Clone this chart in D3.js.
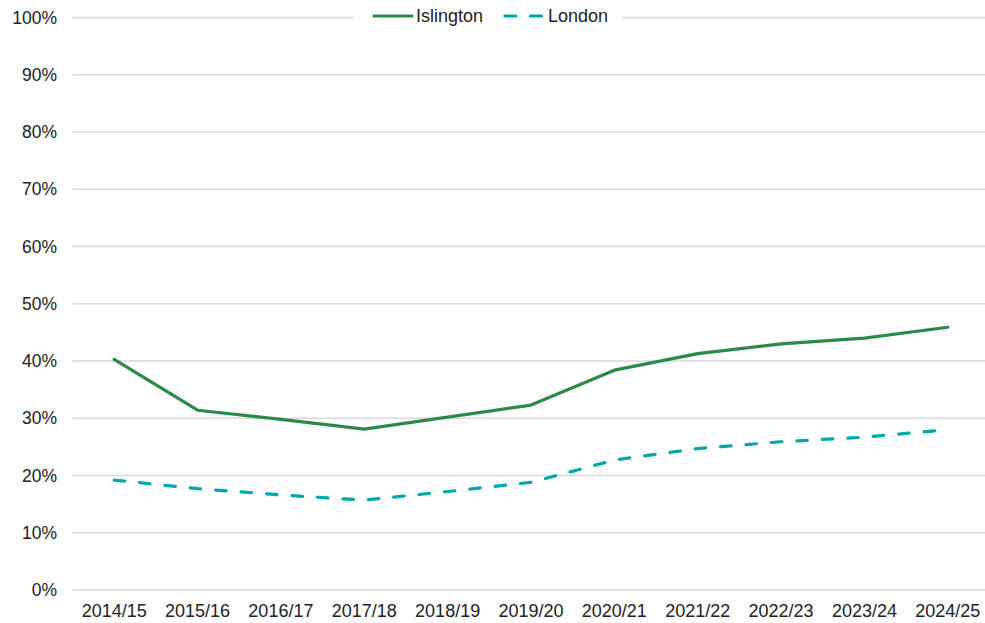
<!DOCTYPE html>
<html>
<head>
<meta charset="utf-8">
<script src="https://cdn.jsdelivr.net/npm/d3@7"></script>
<style>
  html, body { margin: 0; padding: 0; background: #fff; }
  svg { display: block; font-family: "Liberation Sans", Arial, sans-serif; }
</style>
</head>
<body>
<svg id="chart" width="985" height="623"></svg>
<script>
const categories = ["2014/15","2015/16","2016/17","2017/18","2018/19","2019/20","2020/21","2021/22","2022/23","2023/24","2024/25"];
const islington = [40.3, 31.4, 29.8, 28.1, 30.2, 32.3, 38.4, 41.3, 43.0, 44.0, 45.9];
const london = [19.2, 17.7, 16.6, 15.7, 17.2, 18.8, 22.7, 24.7, 25.9, 26.7, 28.0];
const yTicks = [0, 10, 20, 30, 40, 50, 60, 70, 80, 90, 100];
const seriesNames = ["Islington", "London"];

(function () {
const svg = d3.select("#chart");
const mLeft = 72.5, mRight = 989.5, mTop = 17.5, mBottom = 590;

const x = d3.scaleBand().domain(categories).range([mLeft, mRight]);
const y = d3.scaleLinear().domain([0, 100]).range([mBottom, mTop]);

// gridlines
svg.append("g").selectAll("line").data(yTicks).join("line")
  .attr("x1", mLeft).attr("x2", 985)
  .attr("y1", d => y(d)).attr("y2", d => y(d))
  .attr("stroke", "#d9d9d9").attr("stroke-width", 1.3);

// y labels
svg.append("g").selectAll("text").data(yTicks).join("text")
  .attr("x", 57).attr("y", d => y(d)).attr("dy", "0.35em")
  .attr("text-anchor", "end").attr("font-size", 17.5).attr("fill", "#222")
  .text(d => d + "%");

// x labels
svg.append("g").selectAll("text").data(categories).join("text")
  .attr("x", d => x(d) + x.bandwidth() / 2).attr("y", 617)
  .attr("text-anchor", "middle").attr("font-size", 18).attr("fill", "#222")
  .text(d => d);

const line = d3.line()
  .x((d, i) => x(categories[i]) + x.bandwidth() / 2)
  .y(d => y(d));

svg.append("path").datum(london)
  .attr("d", line).attr("fill", "none")
  .attr("stroke", "#00A8A8").attr("stroke-width", 3.2)
  .attr("stroke-linecap", "round").attr("stroke-dasharray", "10.5,15");

svg.append("path").datum(islington)
  .attr("d", line).attr("fill", "none")
  .attr("stroke", "#2B8A47").attr("stroke-width", 3.2)
  .attr("stroke-linecap", "round").attr("stroke-linejoin", "round");

// legend
const lg = svg.append("g");
lg.append("rect").attr("x", 353).attr("y", 4).attr("width", 270).attr("height", 26).attr("fill", "#fff");
lg.append("line").attr("x1", 374).attr("x2", 412).attr("y1", 16).attr("y2", 16)
  .attr("stroke", "#2B8A47").attr("stroke-width", 3.2).attr("stroke-linecap", "round");
lg.append("text").attr("x", 416).attr("y", 16).attr("dy", "0.35em")
  .attr("font-size", 18).attr("fill", "#222").text(seriesNames[0]);
lg.append("line").attr("x1", 505).attr("x2", 544).attr("y1", 16).attr("y2", 16)
  .attr("stroke", "#00A8A8").attr("stroke-width", 3.2).attr("stroke-linecap", "round")
  .attr("stroke-dasharray", "11,14.5");
lg.append("text").attr("x", 548).attr("y", 16).attr("dy", "0.35em")
  .attr("font-size", 18).attr("fill", "#222").text(seriesNames[1]);
})();
</script>
</body>
</html>
